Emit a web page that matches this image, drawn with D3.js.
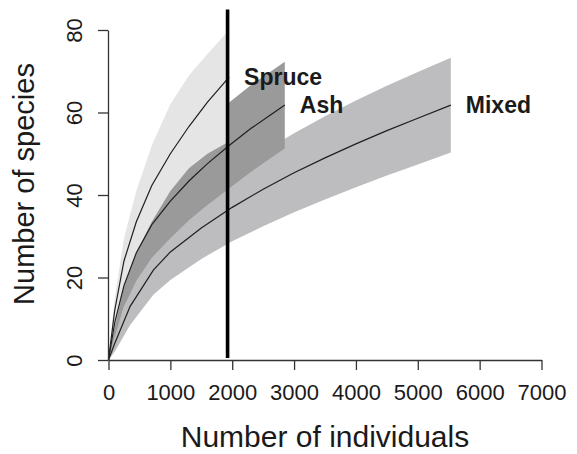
<!DOCTYPE html>
<html>
<head>
<meta charset="utf-8">
<script src="https://cdn.jsdelivr.net/npm/d3@7/dist/d3.min.js"></script>
<style>
  html, body { margin: 0; padding: 0; background: #fff; }
  svg { display: block; }
  text { font-family: "Liberation Sans", Arial, Helvetica, sans-serif; fill: #1a1a1a; }
</style>
</head>
<body>
<svg id="chart" width="577" height="454"></svg>
<script>
// Rarefaction curves: expected species richness vs. number of individuals
const spruceN     = [0, 100, 250, 450, 700, 1000, 1300, 1600, 1950];
const spruceMean  = [0, 12.0, 24.0, 33.5, 42.3, 50.0, 56.6, 62.5, 68.6];
const spruceLower = [0, 8.0, 17.5, 26.0, 33.5, 41.0, 46.5, 50.0, 53.0];
const spruceUpper = [0, 15.0, 29.5, 41.0, 52.0, 62.0, 69.0, 74.2, 80.0];

const ashN     = [0, 100, 250, 450, 700, 1000, 1300, 1600, 1950, 2300, 2600, 2850];
const ashMean  = [0, 9.0, 18.0, 26.0, 32.8, 38.5, 43.4, 47.6, 52.0, 56.1, 59.2, 61.8];
const ashLower = [0, 5.5, 13.0, 19.2, 24.8, 29.5, 33.9, 37.6, 41.6, 45.6, 48.7, 51.3];
const ashUpper = [0, 12.5, 23.0, 32.8, 40.8, 47.5, 52.9, 57.6, 62.4, 66.6, 69.7, 72.3];

const mixedN     = [0, 100, 350, 725, 1000, 1500, 2000, 2500, 3000, 3500, 4000, 4500, 5000, 5534];
const mixedMean  = [0, 4.0, 13.0, 21.8, 26.2, 32.0, 37.0, 41.4, 45.4, 49.0, 52.4, 55.6, 58.6, 61.8];
const mixedLower = [0, 2.0, 8.5, 15.8, 19.4, 24.5, 28.8, 32.4, 35.8, 38.9, 41.9, 44.7, 47.4, 50.3];
const mixedUpper = [0, 6.0, 17.5, 27.8, 33.0, 39.5, 45.2, 50.4, 55.0, 59.1, 62.9, 66.5, 69.8, 73.3];

const seriesNames  = ["Mixed", "Ash", "Spruce"];
const bandColors   = ["#bdbdbf", "#9a9a9a", "#e5e5e6"];

const xTicks = [0, 1000, 2000, 3000, 4000, 5000, 6000, 7000];
const yTicks = [0, 20, 40, 60, 80];

// Reference sample size marked by the vertical rule
const markN = 1925;
const markSpan = [0.5, 85];

const series = [
  { name: seriesNames[0], n: mixedN,  mean: mixedMean,  lo: mixedLower,  hi: mixedUpper,  fill: bandColors[0] },
  { name: seriesNames[1], n: ashN,    mean: ashMean,    lo: ashLower,    hi: ashUpper,    fill: bandColors[1] },
  { name: seriesNames[2], n: spruceN, mean: spruceMean, lo: spruceLower, hi: spruceUpper, fill: bandColors[2] }
];

const svg = d3.select("#chart");
const x = d3.scaleLinear().domain([0, 7000]).range([108.5, 541.5]);
const y = d3.scaleLinear().domain([0, 80]).range([360, 30]);

const area = d3.area()
  .x(d => x(d.n)).y0(d => y(d.lo)).y1(d => y(d.hi));
const line = d3.line()
  .x(d => x(d.n)).y(d => y(d.v));

// Confidence bands, back to front
series.forEach(s => {
  const pts = s.n.map((n, i) => ({ n, lo: s.lo[i], hi: s.hi[i] }));
  svg.append("path").attr("d", area(pts)).attr("fill", s.fill);
});

// Mean curves
series.forEach(s => {
  const pts = s.n.map((n, i) => ({ n, v: s.mean[i] }));
  svg.append("path").attr("d", line(pts))
    .attr("fill", "none").attr("stroke", "#1f1f1f").attr("stroke-width", 1.2);
});

// Curve labels at each curve end
series.forEach(s => {
  const last = s.n.length - 1;
  svg.append("text")
    .attr("x", x(s.n[last]) + 15)
    .attr("y", y(s.mean[last]))
    .attr("dy", "0.36em")
    .attr("font-size", 23).attr("font-weight", "bold")
    .text(s.name);
});

// Vertical rule
svg.append("line")
  .attr("x1", x(markN)).attr("x2", x(markN))
  .attr("y1", y(markSpan[0])).attr("y2", y(markSpan[1]))
  .attr("stroke", "#000").attr("stroke-width", 3.6);

// X axis
const gx = svg.append("g").attr("transform", `translate(0,${y(0)})`)
  .call(d3.axisBottom(x).tickValues(xTicks).tickFormat(d3.format("d"))
    .tickSize(10).tickSizeOuter(0));
gx.select(".domain").attr("stroke", "#333").attr("stroke-width", 1.3);
gx.selectAll(".tick line").attr("stroke", "#333").attr("stroke-width", 1.3);
gx.selectAll(".tick text")
  .attr("y", 40).attr("dy", 0)
  .attr("font-size", 22).attr("font-family", null).style("fill", "#1a1a1a");

// Y axis
const gy = svg.append("g").attr("transform", `translate(${x(0) - 0.5},0)`)
  .call(d3.axisLeft(y).tickValues(yTicks).tickSize(10).tickSizeOuter(0));
gy.select(".domain").attr("stroke", "#333").attr("stroke-width", 1.3);
gy.selectAll(".tick line").attr("stroke", "#333").attr("stroke-width", 1.3);
gy.selectAll(".tick text")
  .attr("transform", "rotate(-90)")
  .attr("x", 0).attr("y", -26).attr("dy", 0)
  .attr("text-anchor", "middle")
  .attr("font-size", 22).attr("font-family", null).style("fill", "#1a1a1a");

// Axis titles
svg.append("text")
  .attr("x", 325).attr("y", 447)
  .attr("text-anchor", "middle").attr("font-size", 30)
  .text("Number of individuals");
svg.append("text")
  .attr("transform", "translate(34,184) rotate(-90)")
  .attr("text-anchor", "middle").attr("font-size", 29)
  .text("Number of species");
</script>
</body>
</html>
